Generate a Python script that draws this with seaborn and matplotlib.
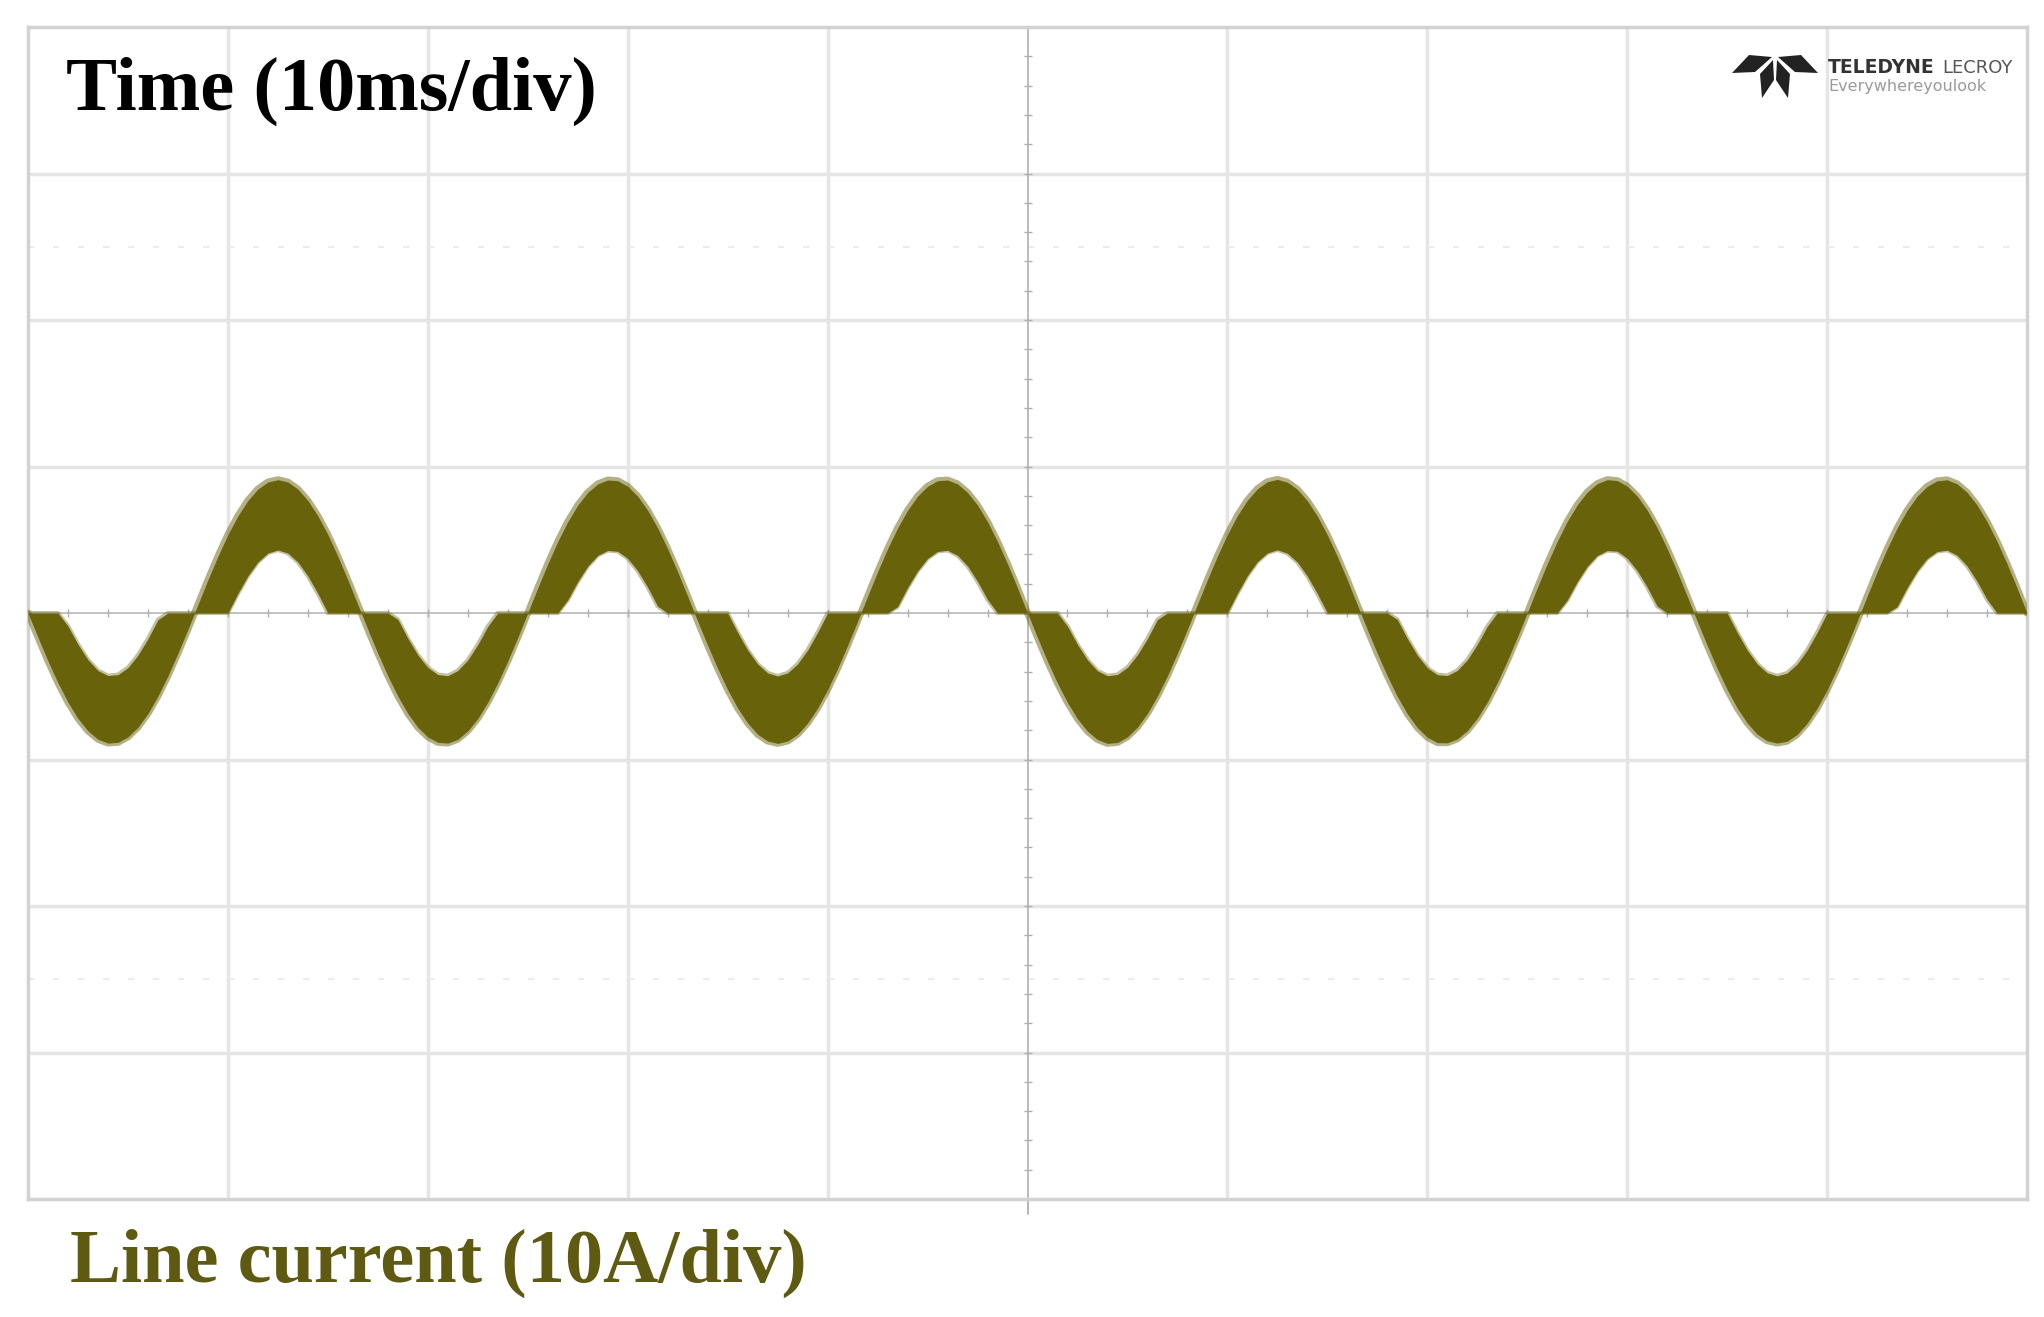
import numpy as np
import pandas as pd
import matplotlib
matplotlib.use('Agg')
import matplotlib.pyplot as plt
import seaborn as sns
from matplotlib.patches import Polygon

# Time axis: 10 ms/div, 10 divisions, trace envelope read every 0.5 ms
time_ms = np.arange(0, 100.5, 0.5)

# Outer edge of the rippled line current band (A)
outer_env = [
    0.00, -1.67, -3.28, -4.77, -6.09, -7.20, -8.05, -8.62, -8.88, -8.83, -8.46, -7.80, -6.86, -5.67, -4.29, -2.75, -1.12,
    0.57, 2.26, 3.87, 5.35, 6.63, 7.68, 8.46, 8.94, 9.10, 8.94, 8.46, 7.68, 6.63, 5.35, 3.87, 2.26, 0.57,
    -1.12, -2.75, -4.29, -5.67, -6.86, -7.80, -8.46, -8.83, -8.88, -8.62, -8.05, -7.20, -6.09, -4.77, -3.28, -1.67,
    0.00,
    1.71, 3.35, 4.88, 6.23, 7.36, 8.23, 8.81, 9.08, 9.03, 8.65, 7.97, 7.01, 5.80, 4.38, 2.81, 1.14,
    -0.56, -2.21, -3.79, -5.23, -6.49, -7.51, -8.28, -8.74, -8.90, -8.74, -8.28, -7.51, -6.49, -5.23, -3.79, -2.21, -0.56,
    1.14, 2.81, 4.38, 5.80, 7.01, 7.97, 8.65, 9.03, 9.08, 8.81, 8.23, 7.36, 6.23, 4.88, 3.35, 1.71,
    0.00,
    -1.68, -3.30, -4.79, -6.11, -7.22, -8.07, -8.64, -8.90, -8.84, -8.45, -7.79, -6.85, -5.66, -4.28, -2.74, -1.11,
    0.58, 2.27, 3.88, 5.36, 6.65, 7.70, 8.48, 8.96, 9.12, 8.93, 8.44, 7.66, 6.61, 5.33, 3.86, 2.25, 0.56,
    -1.13, -2.76, -4.30, -5.69, -6.88, -7.82, -8.48, -8.85, -8.86, -8.60, -8.03, -7.18, -6.08, -4.76, -3.27, -1.66,
    0.00,
    1.72, 3.36, 4.89, 6.25, 7.38, 8.25, 8.83, 9.10, 9.04, 8.66, 7.98, 7.02, 5.81, 4.39, 2.82, 1.15,
    -0.55, -2.20, -3.78, -5.22, -6.48, -7.50, -8.27, -8.72, -8.88, -8.75, -8.29, -7.52, -6.50, -5.24, -3.80, -2.22, -0.57,
    1.13, 2.80, 4.37, 5.79, 7.00, 7.96, 8.64, 9.02, 9.09, 8.82, 8.24, 7.37, 6.24, 4.89, 3.36, 1.72,
    0.00,
]

# Inner edge of the band (A)
inner_env = [
    0, 0, 0, 0, -0.89, -2.14, -3.19, -3.93, -4.27, -4.21, -3.73, -2.88, -1.76, -0.46, 0, 0, 0,
    0, 0, 0, 0, 1.33, 2.53, 3.48, 4.09, 4.30, 4.09, 3.48, 2.53, 1.33, 0, 0, 0, 0,
    0, 0, 0, -0.43, -1.73, -2.86, -3.72, -4.20, -4.28, -3.93, -3.21, -2.16, -0.92, 0, 0, 0,
    0,
    0, 0, 0, 0.89, 2.14, 3.19, 3.93, 4.27, 4.21, 3.73, 2.88, 1.76, 0.46, 0, 0, 0,
    0, 0, 0, 0, -1.33, -2.53, -3.48, -4.09, -4.30, -4.09, -3.48, -2.53, -1.33, 0, 0, 0, 0,
    0, 0, 0, 0.43, 1.73, 2.86, 3.72, 4.20, 4.28, 3.93, 3.21, 2.16, 0.92, 0, 0, 0,
    0,
    0, 0, 0, -0.90, -2.15, -3.20, -3.95, -4.28, -4.20, -3.71, -2.86, -1.75, -0.45, 0, 0, 0,
    0, 0, 0, 0, 1.34, 2.55, 3.50, 4.10, 4.31, 4.08, 3.47, 2.52, 1.32, 0, 0, 0, 0,
    0, 0, 0, -0.44, -1.74, -2.88, -3.74, -4.21, -4.27, -3.92, -3.20, -2.15, -0.91, 0, 0, 0,
    0,
    0, 0, 0, 0.88, 2.13, 3.18, 3.92, 4.26, 4.22, 3.74, 2.89, 1.77, 0.47, 0, 0, 0,
    0, 0, 0, 0, -1.32, -2.52, -3.47, -4.08, -4.29, -4.10, -3.49, -2.54, -1.34, 0, 0, 0, 0,
    0, 0, 0, 0.42, 1.72, 2.85, 3.71, 4.19, 4.29, 3.94, 3.22, 2.17, 0.93, 0, 0, 0,
    0,
]

x_grid = [10, 20, 30, 40, 60, 70, 80, 90]
y_grid = [-30, -20, -10, 10, 20, 30]

TRACE = '#68620b'
W, H = 2044, 1317

sns.set_style('white')
plt.rcParams['font.family'] = ['Liberation Serif', 'DejaVu Serif']

fig = plt.figure(figsize=(W / 100, H / 100), dpi=100)
ax = fig.add_axes([28 / W, 118 / H, 1999 / W, 1172 / H])

df = pd.DataFrame({'t': time_ms, 'outer': outer_env, 'inner': inner_env})

# scope graticule
for x in x_grid:
    ax.axvline(x, color='#e5e5e5', lw=2.5, zorder=1)
for y in y_grid:
    ax.axhline(y, color='#e5e5e5', lw=2.5, zorder=1)
for y in [-25, 25]:
    ax.axhline(y, color='#ececec', lw=1.5, ls=(0, (3, 9)), zorder=1)
ax.axvline(50, color='#b0b0b0', lw=1.2, zorder=2)
ax.axhline(0, color='#b8b8b8', lw=1.2, zorder=2)
ax.plot(np.arange(0, 101, 2), np.zeros(51), ls='', marker='|', ms=6,
        color='#b0b0b0', zorder=2)
ax.plot(np.full(41, 50), np.arange(-40, 41, 2), ls='', marker='_', ms=6,
        color='#b0b0b0', zorder=2)
ax.plot([50, 50], [-40, -41], color='#a8a8a8', lw=1.2, clip_on=False)

# rippled current band, soft edges like the scope's persistence blur
ax.fill_between(df['t'], df['inner'], df['outer'], color=TRACE, lw=0, zorder=3)
sns.lineplot(data=df, x='t', y='outer', ax=ax, color=TRACE, lw=5, alpha=0.5, zorder=3)
sns.lineplot(data=df, x='t', y='inner', ax=ax, color=TRACE, lw=3, alpha=0.4, zorder=3)

ax.set_xlim(0, 100)
ax.set_ylim(-40, 40)
ax.set_xticks([])
ax.set_yticks([])
ax.set_xlabel('')
ax.set_ylabel('')
for s in ax.spines.values():
    s.set_color('#d2d2d2')
    s.set_linewidth(2.5)

fig.text(66 / W, 1 - 110 / H, 'Time (10ms/div)', fontsize=55, fontweight='bold',
         color='black', ha='left', va='baseline')
fig.text(70 / W, 1 - 1282 / H, 'Line current (10A/div)', fontsize=55,
         fontweight='bold', color='#5f5a12', ha='left', va='baseline')

# Teledyne LeCroy logo
def px(pts):
    return [(x / W, 1 - y / H) for x, y in pts]

petals = [
    [(1772, 57), (1749, 55), (1732, 73), (1755, 72)],
    [(1778, 57), (1801, 55), (1818, 73), (1795, 72)],
    [(1773, 60), (1760, 74), (1762, 98), (1774, 80)],
    [(1777, 60), (1790, 74), (1788, 98), (1776, 80)],
]
for p in petals:
    fig.add_artist(Polygon(px(p), closed=True, transform=fig.transFigure,
                           color='#222222', lw=0))
fig.text(1828 / W, 1 - 73 / H, 'TELEDYNE', fontsize=13.5, fontweight='bold',
         family='DejaVu Sans', color='#333333', va='baseline')
fig.text(1942 / W, 1 - 73 / H, 'LECROY', fontsize=13, family='DejaVu Sans',
         color='#555555', va='baseline')
fig.text(1828 / W, 1 - 91 / H, 'Everywhereyoulook', fontsize=11.5,
         family='DejaVu Sans', color='#9a9a9a', va='baseline')

fig.savefig('out.png', dpi=100, facecolor='white')
